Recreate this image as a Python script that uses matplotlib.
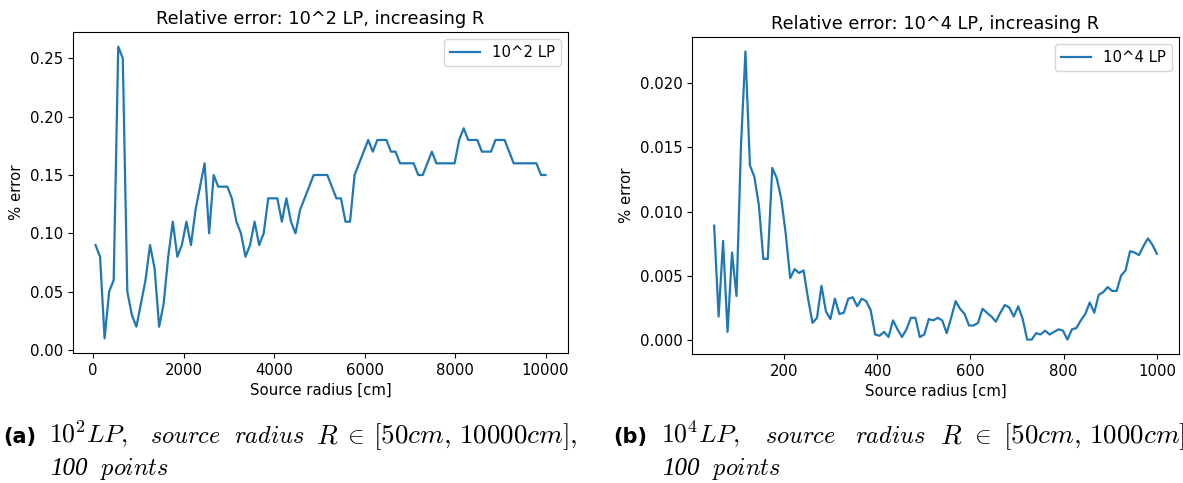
import numpy as np
import matplotlib
matplotlib.use("Agg")
import matplotlib.pyplot as plt

plt.rcParams["mathtext.fontset"] = "cm"

# (a) 10^2 LP, R in [50, 10000] cm, 100 points
radius_a = np.linspace(50, 10000, 100)
error_a = [
    0.09, 0.08, 0.01, 0.05, 0.06, 0.26, 0.25, 0.05, 0.03, 0.02,
    0.04, 0.06, 0.09, 0.07, 0.02, 0.04, 0.08, 0.11, 0.08, 0.09,
    0.11, 0.09, 0.12, 0.14, 0.16, 0.10, 0.15, 0.14, 0.14, 0.14,
    0.13, 0.11, 0.10, 0.08, 0.09, 0.11, 0.09, 0.10, 0.13, 0.13,
    0.13, 0.11, 0.13, 0.11, 0.10, 0.12, 0.13, 0.14, 0.15, 0.15,
    0.15, 0.15, 0.14, 0.13, 0.13, 0.11, 0.11, 0.15, 0.16, 0.17,
    0.18, 0.17, 0.18, 0.18, 0.18, 0.17, 0.17, 0.16, 0.16, 0.16,
    0.16, 0.15, 0.15, 0.16, 0.17, 0.16, 0.16, 0.16, 0.16, 0.16,
    0.18, 0.19, 0.18, 0.18, 0.18, 0.17, 0.17, 0.17, 0.18, 0.18,
    0.18, 0.17, 0.16, 0.16, 0.16, 0.16, 0.16, 0.16, 0.15, 0.15,
]

# (b) 10^4 LP, R in [50, 1000] cm, 100 points
radius_b = np.linspace(50, 1000, 100)
error_b = [
    0.0089, 0.0018, 0.0077, 0.0006, 0.0068, 0.0034, 0.0151, 0.0225, 0.0136, 0.0127,
    0.0105, 0.0063, 0.0063, 0.0134, 0.0126, 0.0110, 0.0083, 0.0048, 0.0055, 0.0052,
    0.0054, 0.0032, 0.0013, 0.0017, 0.0042, 0.0022, 0.0016, 0.0032, 0.0020, 0.0021,
    0.0032, 0.0033, 0.0026, 0.0032, 0.0030, 0.0023, 0.0004, 0.0003, 0.0006, 0.0002,
    0.0015, 0.0008, 0.0002, 0.0008, 0.0017, 0.0017, 0.0002, 0.0004, 0.0016, 0.0015,
    0.0017, 0.0015, 0.0005, 0.0017, 0.0030, 0.0024, 0.0020, 0.0011, 0.0011, 0.0013,
    0.0024, 0.0021, 0.0018, 0.0014, 0.0021, 0.0027, 0.0025, 0.0018, 0.0026, 0.0016,
    0.0000, 0.0000, 0.0005, 0.0004, 0.0007, 0.0004, 0.0006, 0.0008, 0.0007, 0.0000,
    0.0008, 0.0009, 0.0015, 0.0020, 0.0029, 0.0021, 0.0035, 0.0037, 0.0041, 0.0038,
    0.0038, 0.0050, 0.0054, 0.0069, 0.0068, 0.0066, 0.0073, 0.0079, 0.0074, 0.0067,
]

W, H = 1183, 483
fig = plt.figure(figsize=(W / 100, H / 100), dpi=100)

fs = 10.7
ts = 12.8


def px_axes(x0, x1, top, bottom):
    return fig.add_axes([x0 / W, 1 - bottom / H, (x1 - x0) / W, (bottom - top) / H])


ax1 = px_axes(73, 568, 32, 353)
ax1.plot(radius_a, error_a, color="#1f77b4", linewidth=1.6, label="10^2 LP")
ax1.set_title("Relative error: 10^2 LP, increasing R", fontsize=ts)
ax1.set_xlabel("Source radius [cm]", fontsize=fs)
ax1.set_ylabel("% error", fontsize=fs)
ax1.set_xticks([0, 2000, 4000, 6000, 8000, 10000])
ax1.set_yticks([0.0, 0.05, 0.10, 0.15, 0.20, 0.25])
ax1.tick_params(labelsize=fs)
ax1.legend(loc="upper right", fontsize=fs)

ax2 = px_axes(692, 1179, 37, 354)
ax2.plot(radius_b, error_b, color="#1f77b4", linewidth=1.6, label="10^4 LP")
ax2.set_title("Relative error: 10^4 LP, increasing R", fontsize=ts)
ax2.set_xlabel("Source radius [cm]", fontsize=fs)
ax2.set_ylabel("% error", fontsize=fs)
ax2.set_xticks([200, 400, 600, 800, 1000])
ax2.set_yticks([0.0, 0.005, 0.010, 0.015, 0.020])
ax2.tick_params(labelsize=fs)
ax2.legend(loc="upper right", fontsize=fs)

# sub-captions, laid out like the justified LaTeX lines
base1 = 1 - 443 / H
base2 = 1 - 475 / H
word = 17.5


def cap(x, y, s, size=19.5, **kw):
    fig.text(x / W, y, s, va="baseline", ha="left", fontsize=size, **kw)


cap(3, base1, "(a)", size=15, fontweight="bold")
cap(49, base1, r"$10^2LP,$", size=18.5)
cap(150, base1, r"$source$", size=word)
cap(234, base1, r"$radius$", size=word)
cap(316, base1, r"$R$")
cap(343, base1, r"$\in$", size=18)
cap(373, base1, r"$[50cm,\,10000cm],$")
cap(50, base2, "100", size=18, family="Liberation Serif", style="italic")
cap(100, base2, r"$points$", size=word)

cap(613, base1, "(b)", size=15, fontweight="bold")
cap(661, base1, r"$10^4LP,$", size=18.5)
cap(765, base1, r"$source$", size=word)
cap(855, base1, r"$radius$", size=word)
cap(940, base1, r"$R$")
cap(970, base1, r"$\in$", size=18)
cap(1003, base1, r"$[50cm,\,1000cm]$")
cap(662, base2, "100", size=18, family="Liberation Serif", style="italic")
cap(712, base2, r"$points$", size=word)

fig.savefig("out.png", dpi=100)
